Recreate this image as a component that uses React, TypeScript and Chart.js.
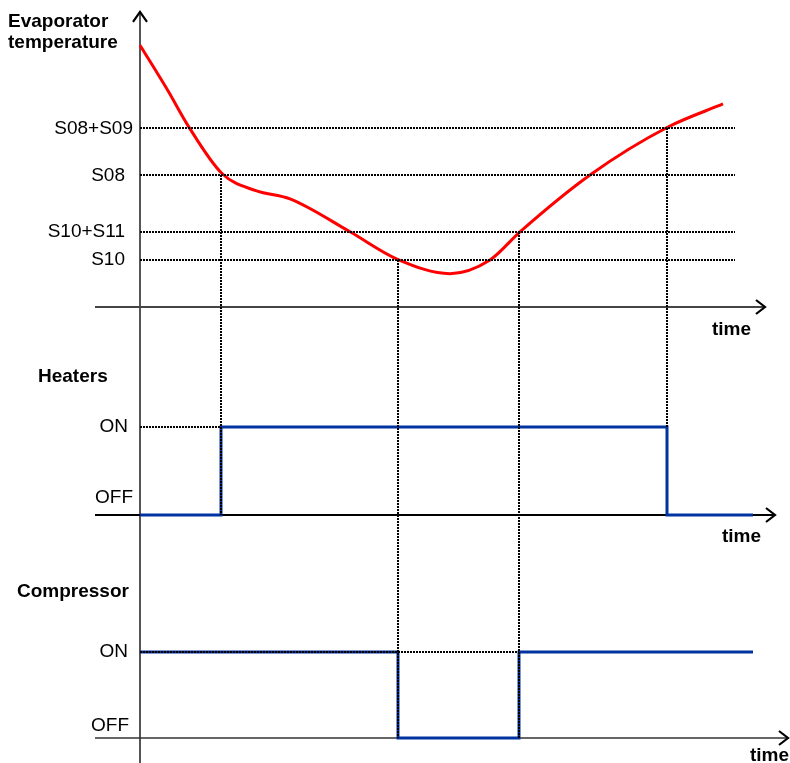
import React, { useEffect, useRef } from "react";
import { Chart, registerables } from "chart.js";

Chart.register(...registerables);

// ---------- data ----------
const TIME_MIN = -28;
const TIME_MAX = 130;

const thresholdNames = ["S08+S09", "S08", "S10+S11", "S10"];
const thresholdValues = [38, 28, 16, 10];

const curveTime = [0, 5.6, 9.6, 16.4, 23, 30, 42, 51.4, 62, 70, 76, 90, 105.6, 116.6];
const curveTemp = [55.7, 46.0, 38.6, 28.4, 24.8, 23.0, 16.0, 10.2, 7.1, 10.0, 16.0, 28.1, 38.3, 43.2];

const heatersTime = [0, 16.2, 16.2, 105.4, 105.4, 122.6];
const heatersState = [0, 0, 1, 1, 0, 0];

const compressorTime = [0, 51.6, 51.6, 75.8, 75.8, 122.6];
const compressorState = [1, 1, 0, 0, 1, 1];

const stateLabels = ["OFF", "ON"];

// vertical guides: time, threshold index it starts from, panel & state it ends at
const guideTime = [16.2, 51.6, 75.8, 105.4];
const guideFromThreshold = [1, 3, 2, 0];
const guideToPanel = ["yH", "yC", "yC", "yH"];
const guideToState = [0, 0, 0, 1];

// ---------- layout helpers ----------
const W = 790;
const H = 763;
const range = (zeroPx: number, unitPx: number) => ({ min: (zeroPx - H) / unitPx, max: zeroPx / unitPx });
const tempRange = range(307, 4.7);
const heatRange = range(515, 88);
const compRange = range(738, 86);

const FONT = '"Liberation Sans", Arial, sans-serif';
const BLUE = "#0033a0";

const diagramPlugin = {
  id: "diagram",
  beforeDatasetsDraw(chart: any) {
    const ctx = chart.ctx as CanvasRenderingContext2D;
    const x = chart.scales.x;
    const yT = chart.scales.yT;
    const yH = chart.scales.yH;
    const yC = chart.scales.yC;
    const arrowRight = (px: number, py: number) => {
      ctx.beginPath();
      ctx.moveTo(px - 9, py - 7);
      ctx.lineTo(px, py);
      ctx.lineTo(px - 9, py + 7);
      ctx.lineWidth = 2.2;
      ctx.strokeStyle = "#000";
      ctx.stroke();
    };
    ctx.save();
    ctx.lineCap = "butt";
    // vertical axis
    const x0 = Math.round(x.getPixelForValue(0));
    const top = yT.getPixelForValue(62.8);
    ctx.beginPath();
    ctx.moveTo(x0, top);
    ctx.lineTo(x0, chart.height);
    ctx.strokeStyle = "#555";
    ctx.lineWidth = 2;
    ctx.stroke();
    ctx.beginPath();
    ctx.moveTo(x0 - 7, top + 10);
    ctx.lineTo(x0, top);
    ctx.lineTo(x0 + 7, top + 10);
    ctx.strokeStyle = "#000";
    ctx.lineWidth = 2.2;
    ctx.stroke();

    const axes: [any, number, string, number][] = [
      [yT, 125, "#444", 2],
      [yH, 127, "#000", 2.2],
      [yC, 129.6, "#333", 1.6],
    ];
    axes.forEach(([ys, end, color, lw]) => {
      const py = Math.round(ys.getPixelForValue(0));
      ctx.beginPath();
      ctx.moveTo(x.getPixelForValue(-9), py);
      ctx.lineTo(x.getPixelForValue(end), py);
      ctx.strokeStyle = color;
      ctx.lineWidth = lw;
      ctx.stroke();
      arrowRight(x.getPixelForValue(end), py);
    });
    ctx.restore();
  },
  afterDatasetsDraw(chart: any) {
    const ctx = chart.ctx as CanvasRenderingContext2D;
    const x = chart.scales.x;
    const yT = chart.scales.yT;
    const yH = chart.scales.yH;
    const yC = chart.scales.yC;
    ctx.save();
    ctx.setLineDash([2, 1]);
    ctx.strokeStyle = "#000";
    ctx.lineWidth = 2;
    const hline = (ys: any, v: number, t0: number, t1: number) => {
      const py = Math.round(ys.getPixelForValue(v));
      ctx.beginPath();
      ctx.moveTo(Math.round(x.getPixelForValue(t0)), py);
      ctx.lineTo(Math.round(x.getPixelForValue(t1)), py);
      ctx.stroke();
    };
    thresholdValues.forEach((v) => hline(yT, v, 0, 119));
    hline(yH, 1, 0, heatersTime[2]);
    hline(yC, 1, 0, compressorTime[3]);
    guideTime.forEach((t, i) => {
      const px = Math.round(x.getPixelForValue(t));
      const ys = chart.scales[guideToPanel[i]];
      ctx.beginPath();
      ctx.moveTo(px, Math.round(yT.getPixelForValue(thresholdValues[guideFromThreshold[i]])));
      ctx.lineTo(px, Math.round(ys.getPixelForValue(guideToState[i])));
      ctx.stroke();
    });
    ctx.setLineDash([]);

    // texts
    ctx.fillStyle = "#000";
    ctx.textBaseline = "middle";
    const text = (s: string, px: number, py: number, align: CanvasTextAlign, bold: boolean) => {
      ctx.font = `${bold ? "bold " : ""}19px ${FONT}`;
      ctx.textAlign = align;
      ctx.fillText(s, px, py);
    };
    text("Evaporator", 8, 22, "left", true);
    text("temperature", 8, 43, "left", true);
    thresholdNames.forEach((name, i) => {
      const right = name === "S08+S09" ? 133 : 125;
      text(name, right, yT.getPixelForValue(thresholdValues[i]), "right", false);
    });
    text("Heaters", 38, 377, "left", true);
    text(stateLabels[1], 128, yH.getPixelForValue(1), "right", false);
    text(stateLabels[0], 133, yH.getPixelForValue(0) - 17, "right", false);
    text("Compressor", 17, 592, "left", true);
    text(stateLabels[1], 128, yC.getPixelForValue(1), "right", false);
    text(stateLabels[0], 129, yC.getPixelForValue(0) - 12, "right", false);
    text("time", 712, yT.getPixelForValue(0) + 23, "left", true);
    text("time", 722, yH.getPixelForValue(0) + 22, "left", true);
    text("time", 750, yC.getPixelForValue(0) + 18, "left", true);
    ctx.restore();
  },
};

export default function App() {
  const ref = useRef<HTMLCanvasElement | null>(null);
  useEffect(() => {
    document.body.style.margin = "0";
    const canvas = ref.current;
    if (!canvas) return;
    const chart = new Chart(canvas, {
      type: "line",
      data: {
        datasets: [
          {
            label: "Heaters",
            data: heatersTime.map((t, i) => ({ x: t, y: heatersState[i] })),
            yAxisID: "yH",
            borderColor: BLUE,
            borderWidth: 3,
            tension: 0,
            pointRadius: 0,
            borderJoinStyle: "miter",
            fill: false,
          },
          {
            label: "Compressor",
            data: compressorTime.map((t, i) => ({ x: t, y: compressorState[i] })),
            yAxisID: "yC",
            borderColor: BLUE,
            borderWidth: 3,
            tension: 0,
            pointRadius: 0,
            borderJoinStyle: "miter",
            fill: false,
          },
          {
            label: "Evaporator temperature",
            data: curveTime.map((t, i) => ({ x: t, y: curveTemp[i] })),
            yAxisID: "yT",
            borderColor: "#ff0000",
            borderWidth: 3,
            cubicInterpolationMode: "monotone",
            pointRadius: 0,
            fill: false,
          },
        ],
      },
      options: {
        animation: false,
        responsive: false,
        events: [],
        devicePixelRatio: 1,
        layout: { padding: 0, autoPadding: false },
        plugins: { legend: { display: false }, tooltip: { enabled: false } },
        scales: {
          x: { type: "linear", min: TIME_MIN, max: TIME_MAX, display: false },
          yT: { type: "linear", min: tempRange.min, max: tempRange.max, display: false },
          yH: { type: "linear", min: heatRange.min, max: heatRange.max, display: false },
          yC: { type: "linear", min: compRange.min, max: compRange.max, display: false },
        },
      } as any,
      plugins: [diagramPlugin],
    });
    return () => chart.destroy();
  }, []);
  return (
    <div style={{ width: W, height: H, background: "#fff" }}>
      <canvas ref={ref} width={W} height={H} style={{ display: "block", width: W, height: H }} />
    </div>
  );
}
